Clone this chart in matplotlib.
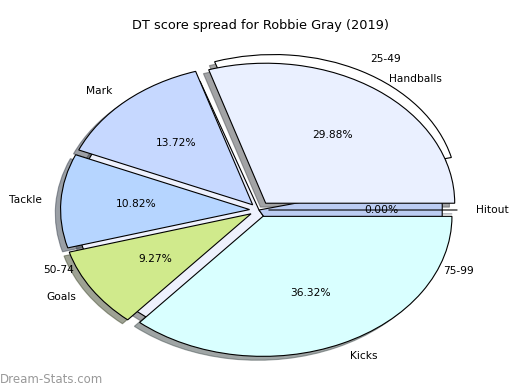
import matplotlib
matplotlib.use("Agg")
import matplotlib.pyplot as plt

# inner pie: share of DT score by stat
categories = ["Handballs", "Mark", "Tackle", "Goals", "Kicks", "Hitout"]
shares = [29.88, 13.72, 10.82, 9.27, 36.32, 0.0]
cat_colors = ["#eaf0ff", "#c6d8ff", "#b6d5ff", "#d0ea8c", "#d9ffff", "#b0c4ee"]

# outer pie: games per score bracket
brackets = ["25-49", "50-74", "75-99"]
games = [5, 10, 4]
bracket_colors = ["white", "#eef1fd", "#bccdf3"]

title = "DT score spread for Robbie Gray (2019)"

fig = plt.figure(figsize=(5.2, 3.9), dpi=100)
ax = fig.add_axes([0, 0, 1, 1])

edge = {"edgecolor": "black", "linewidth": 0.8}
txt = {"fontsize": 7.7}

_, _, outer_pct = ax.pie(games, labels=brackets, colors=bracket_colors,
                         explode=[0.16, 0, 0], radius=0.97, startangle=14,
                         autopct="%1.1f%%", shadow=True,
                         wedgeprops=edge, textprops=txt)
# the outer percentages sit underneath the inner pie
for t in outer_pct:
    t.set_zorder(1)

ax.pie(shares, labels=categories, colors=cat_colors,
       explode=[0.06, 0.05, 0.05, 0.05, 0.05, 0.05],
       autopct="%1.2f%%", shadow=True, wedgeprops=edge, textprops=txt)

# stretched (elliptical) pie like the original
ax.set_aspect("auto")
cx, cy, rx, ry = 259, 210, 189, 140
ax.set_xlim(-cx / rx, (520 - cx) / rx)
ax.set_ylim(-(390 - cy) / ry, cy / ry)

fig.text(0.5, 1 - 25 / 390, title, ha="center", va="center", fontsize=9.3)
fig.text(0.0, 0.026, "Dream-Stats.com", ha="left", va="center",
         fontsize=8.5, color="#999999")

fig.savefig("out.png")
